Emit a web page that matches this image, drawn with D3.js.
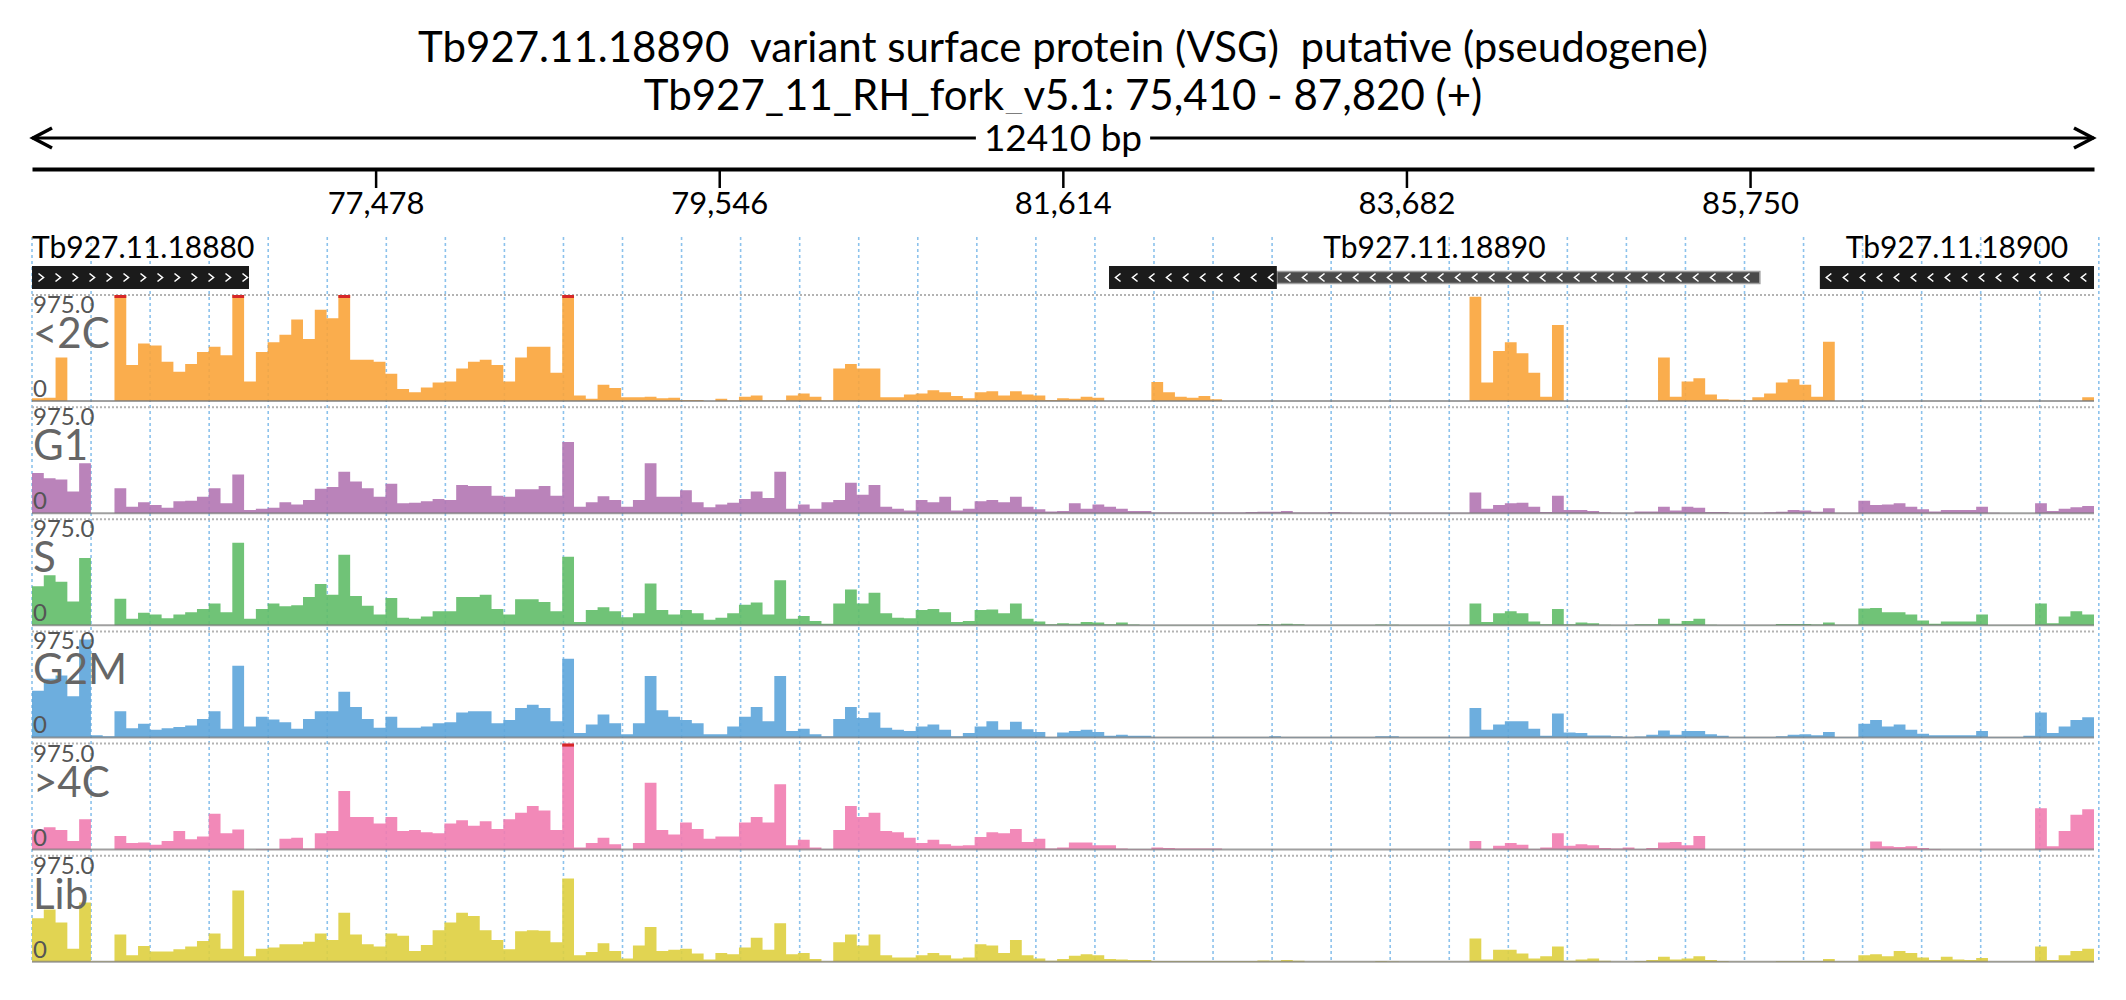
<!DOCTYPE html>
<html>
<head>
<meta charset="utf-8">
<script src="https://cdn.jsdelivr.net/npm/d3@7"></script>
<style>
body { margin: 0; background: #fff; }
text { font-family: Lato, "Open Sans", sans-serif; }
</style>
</head>
<body>
<div class="chart"></div>
<script>
// region + labels
var title = 'Tb927.11.18890  variant surface protein (VSG)  putative (pseudogene)'
var subtitle = 'Tb927_11_RH_fork_v5.1: 75,410 - 87,820 (+)'
var regionStart = 75410, regionEnd = 87820
var tickValues = [77478, 79546, 81614, 83682, 85750]
var gridStep = 355.4
var yMax = 975

// genes (thickEnd: where the black part stops, rest is drawn thin)
var geneNames = ['Tb927.11.18880', 'Tb927.11.18890', 'Tb927.11.18900']
var geneStart = [75410, 81892, 86170]
var geneEnd = [76716, 85809, 87820]
var geneThickEnd = [76716, 82902, 87820]
var geneStrand = ['+', '-', '-']

// coverage tracks, 175 bins over the region
var trackNames = ['<2C', 'G1', 'S', 'G2M', '>4C', 'Lib']
var trackColors = ['#FAA43A', '#B276B2', '#60BD68', '#5DA5DA', '#F17CB0', '#DECF3F']

var cov2C = [
  25,30,400,0,0,0,0,1300,330,530,
  510,360,270,340,450,500,420,1300,180,450,
  540,610,750,570,840,760,1300,380,380,360,
  250,110,80,125,170,180,300,360,380,330,
  180,400,500,500,260,1300,50,20,150,120,
  35,35,40,25,30,10,10,0,20,5,
  40,50,5,5,50,70,40,5,300,340,
  300,300,35,35,60,70,100,80,45,25,
  80,90,50,90,60,50,10,25,20,40,
  30,0,0,0,0,175,80,40,30,45,
  15,0,0,0,0,0,0,0,0,0,
  0,0,0,0,0,0,0,0,0,0,
  0,0,960,170,460,540,440,260,40,700,
  0,0,0,0,0,0,0,0,400,40,
  180,210,60,15,12,5,35,70,170,200,
  150,40,545,0,0,0,0,0,0,0,
  0,0,0,0,0,0,0,0,0,0,
  0,0,0,0,35]
var covG1 = [
  370,320,310,200,460,0,0,230,60,100,
  75,50,110,115,150,230,90,355,30,40,
  50,100,80,120,225,240,380,290,230,150,
  270,90,95,110,130,120,260,250,250,160,
  150,220,220,250,160,655,60,100,155,120,
  60,120,460,150,150,210,100,55,80,95,
  130,200,140,380,40,80,40,100,120,280,
  170,260,60,40,25,120,100,150,25,40,
  110,120,100,150,60,35,15,20,90,40,
  80,60,40,20,20,5,5,5,5,5,
  5,5,5,10,12,12,20,5,5,5,
  10,5,3,3,3,3,3,3,3,3,
  3,3,190,40,75,90,95,60,10,160,
  30,30,20,8,3,3,15,15,60,25,
  60,50,10,10,3,3,3,8,12,30,
  25,12,45,3,3,115,75,80,90,60,
  35,15,30,30,30,60,3,0,0,0,
  90,20,40,55,65]
var covS = [
  360,460,400,220,620,0,0,245,60,115,
  100,65,100,120,150,200,120,760,60,150,
  200,175,185,260,380,280,650,270,180,100,
  250,70,60,80,130,130,260,260,280,150,
  100,240,240,215,130,630,30,140,165,130,
  75,110,385,140,100,140,110,50,70,110,
  190,210,100,415,60,85,40,15,200,330,
  200,300,110,70,65,140,150,120,30,40,
  140,145,110,200,60,35,10,20,15,30,
  25,10,25,8,3,3,3,3,3,3,
  3,3,3,3,12,8,15,10,3,3,
  3,3,3,3,8,5,3,3,3,3,
  3,3,200,30,110,130,110,35,10,150,
  10,25,20,5,3,3,10,10,60,15,
  40,60,5,3,3,3,3,3,12,12,
  12,8,25,5,5,155,160,120,120,100,
  45,15,35,35,35,100,3,3,3,3,
  200,20,80,130,100]
var covG2M = [
  430,540,570,380,900,20,10,240,85,125,
  70,85,95,110,170,240,80,660,100,190,
  165,140,80,170,240,240,420,280,170,90,
  190,90,90,100,130,140,230,240,240,130,
  160,270,300,270,150,725,40,120,210,130,
  30,130,565,250,190,160,130,30,30,100,
  190,280,150,565,60,80,30,10,170,280,
  180,230,90,70,60,100,120,70,10,40,
  100,150,70,145,75,50,5,45,60,70,
  50,15,25,15,15,3,3,3,3,3,
  3,3,3,3,3,10,5,3,3,3,
  3,3,3,5,12,10,3,3,3,3,
  3,3,270,70,120,150,150,80,15,220,
  45,40,18,18,10,3,8,25,65,25,
  60,60,30,15,3,3,3,3,10,25,
  30,20,50,3,3,125,160,100,120,70,
  35,20,20,20,20,60,3,3,3,15,
  230,40,100,160,185]
var cov4C = [
  185,205,180,80,280,0,0,125,60,65,
  45,80,170,95,120,330,150,185,0,5,
  5,100,110,10,150,170,540,300,300,240,
  300,170,180,160,150,240,270,220,260,190,
  280,340,400,360,180,1300,20,60,110,50,
  0,60,615,180,140,250,190,100,120,120,
  250,300,250,600,40,90,20,5,180,400,
  300,340,170,160,110,60,90,50,35,40,
  115,160,150,190,70,100,10,20,65,65,
  40,40,10,5,5,20,15,10,10,10,
  10,2,2,2,2,2,2,2,2,2,
  2,2,2,2,2,2,2,2,2,2,
  2,2,80,3,35,60,45,5,20,150,
  35,50,40,15,10,20,5,15,65,70,
  40,125,0,0,0,0,0,0,0,0,
  0,0,0,0,0,0,75,30,25,30,
  15,5,0,0,0,0,0,0,0,0,
  380,30,170,320,370]
var covLib = [
  400,480,360,120,545,5,5,250,60,145,
  95,95,115,140,190,260,120,655,50,120,
  130,160,160,185,260,200,450,250,160,140,
  260,240,100,155,290,360,450,420,290,200,
  115,280,290,285,180,765,60,90,170,100,
  30,150,320,100,110,120,75,20,80,70,
  130,220,110,355,70,80,25,5,180,250,
  150,250,60,40,40,60,80,60,30,40,
  160,150,80,200,60,30,10,25,55,70,
  60,25,20,15,15,6,6,6,6,6,
  6,6,6,6,12,10,15,10,3,3,
  3,3,3,3,8,5,2,2,2,2,
  2,2,215,20,110,110,75,30,50,140,
  10,20,30,10,2,2,8,15,45,20,
  30,50,15,8,2,2,2,2,8,8,
  8,8,25,5,5,60,70,50,100,80,
  40,15,45,20,15,35,2,2,2,2,
  140,15,60,100,120]

var tracks = [cov2C, covG1, covS, covG2M, cov4C, covLib]
var binCount = 175
var binSize = (regionEnd - regionStart) / binCount

var width = 2126, height = 1000
var trackTop = 295, trackStep = 112.15, trackH = 106

document.addEventListener('DOMContentLoaded', () => {
    drawChart()
});

function drawChart()
{
    var svg = d3.select('.chart')
    .append('svg')
        .attr('width', width)
        .attr('height', height)
        .style('display', 'block')

    var x = d3.scaleLinear()
        .domain([regionStart, regionEnd])
        .range([32, 2094])

    // titles
    svg.append('text').attr('x', width/2).attr('y', 62)
        .attr('text-anchor', 'middle').style('font-size', '42px')
        .style('white-space', 'pre').text(title)
    svg.append('text').attr('x', width/2).attr('y', 110)
        .attr('text-anchor', 'middle').style('font-size', '42px')
        .text(subtitle)

    // span arrow
    var ay = 138
    svg.append('line').attr('x1', x(regionStart)).attr('x2', x(regionEnd))
        .attr('y1', ay).attr('y2', ay).attr('stroke', 'black').attr('stroke-width', 3)
    svg.append('path')
        .attr('d', 'M' + (x(regionStart)+20) + ',' + (ay-10) + 'L' + (x(regionStart)+1) + ',' + ay + 'L' + (x(regionStart)+20) + ',' + (ay+10))
        .attr('fill', 'none').attr('stroke', 'black').attr('stroke-width', 3.5)
    svg.append('path')
        .attr('d', 'M' + (x(regionEnd)-20) + ',' + (ay-10) + 'L' + (x(regionEnd)-1) + ',' + ay + 'L' + (x(regionEnd)-20) + ',' + (ay+10))
        .attr('fill', 'none').attr('stroke', 'black').attr('stroke-width', 3.5)
    var spanBg = svg.append('rect').attr('fill', 'white')
    var spanText = svg.append('text')
        .attr('x', (x(regionStart) + x(regionEnd))/2).attr('y', ay)
        .attr('dy', '0.35em')
        .attr('text-anchor', 'middle').style('font-size', '37px')
        .text((regionEnd - regionStart) + ' bp')
    var bb = spanText.node().getBBox()
    spanBg.attr('x', bb.x - 8).attr('y', bb.y).attr('width', bb.width + 16).attr('height', bb.height)

    // coordinate axis
    var axis = svg.append('g')
        .attr('transform', 'translate(0,169)')
        .call(d3.axisBottom(x).tickValues(tickValues).tickSize(19).tickSizeOuter(0)
            .tickPadding(4).tickFormat(d3.format(',')))
    axis.select('.domain').attr('stroke-width', 4)
    axis.selectAll('.tick line').attr('stroke-width', 2.5)
    axis.selectAll('.tick text').style('font-size', '31px').attr('font-family', null)

    // vertical grid
    var gridPos = d3.range(0, 36).map(k => regionStart + k*gridStep)
    svg.append('g').selectAll('line').data(gridPos).enter().append('line')
        .attr('x1', d => x(d)).attr('x2', d => x(d))
        .attr('y1', 237).attr('y2', 963)
        .attr('stroke', '#8cc2ec').attr('stroke-width', 1.6)
        .attr('stroke-dasharray', '3,3')

    // genes
    var geneG = svg.append('g')
    geneNames.forEach(function(name, i) {
        var x0 = x(geneStart[i]), x1 = x(geneEnd[i]), xt = x(geneThickEnd[i])
        if (xt < x1) {
            geneG.append('rect').attr('x', xt).attr('y', 271.5).attr('width', x1 - xt).attr('height', 12)
                .attr('fill', '#4a4a4a').attr('stroke', '#a0a0a0').attr('stroke-width', 1.5)
        }
        geneG.append('rect').attr('x', x0).attr('y', 266).attr('width', xt - x0).attr('height', 23)
            .attr('fill', '#1b1b1b')
        // chevrons
        var dir = geneStrand[i] == '+' ? 1 : -1
        for (var cx = x0 + 9; cx < x1 - 4; cx += 17) {
            geneG.append('path')
                .attr('d', 'M' + (cx - 2.5*dir) + ',' + 273.5 + 'L' + (cx + 2.5*dir) + ',' + 277.5 + 'L' + (cx - 2.5*dir) + ',' + 281.5)
                .attr('fill', 'none').attr('stroke', 'white').attr('stroke-width', 1.6)
        }
        var lbl = geneG.append('text').attr('y', 258).style('font-size', '30px').text(name)
        var w = lbl.node().getComputedTextLength()
        var lx = Math.max(x(regionStart), Math.min((x0 + x1)/2 - w/2, x(regionEnd) - w))
        lbl.attr('x', lx)
    })

    // coverage tracks
    tracks.forEach(function(values, i) {
        var top = trackTop + i*trackStep
        var y = d3.scaleLinear().domain([0, yMax]).range([top + trackH, top]).clamp(true)
        var g = svg.append('g')

        g.append('line').attr('x1', x(regionStart)).attr('x2', x(regionEnd))
            .attr('y1', top).attr('y2', top)
            .attr('stroke', '#b3b3b3').attr('stroke-width', 2).attr('stroke-dasharray', '2,2')

        // step area, one point per bin start plus the region end
        var pts = values.map((d, j) => [regionStart + j*binSize, d])
        pts.push([regionEnd, values[values.length - 1]])
        g.append('path')
            .datum(pts)
            .attr('fill', trackColors[i])
            .attr('fill-opacity', 0.9)
            .attr('d', d3.area()
                .x(d => x(d[0]))
                .y0(y(0))
                .y1(d => y(d[1]))
                .curve(d3.curveStepAfter))

        // clipped bins get a red cap
        g.selectAll('rect.clip').data(values.map((d, j) => [d, j]).filter(d => d[0] > yMax))
            .enter().append('rect')
            .attr('x', d => x(regionStart + d[1]*binSize))
            .attr('width', d => x(regionStart + (d[1]+1)*binSize) - x(regionStart + d[1]*binSize))
            .attr('y', top).attr('height', 3)
            .attr('fill', '#d62728')

        g.append('line').attr('x1', x(regionStart)).attr('x2', x(regionEnd))
            .attr('y1', y(0)).attr('y2', y(0))
            .attr('stroke', '#777').attr('stroke-opacity', 0.7).attr('stroke-width', 2)

        g.append('text').attr('x', 33).attr('y', top + 18)
            .style('font-size', '24px').attr('fill', '#555').text(yMax.toFixed(1))
        g.append('text').attr('x', 33).attr('y', top + 53)
            .style('font-size', '42px').attr('fill', '#666').text(trackNames[i])
        g.append('text').attr('x', 33).attr('y', top + 102)
            .style('font-size', '24px').attr('fill', '#555').text('0')
    })
}
</script>
</body>
</html>
